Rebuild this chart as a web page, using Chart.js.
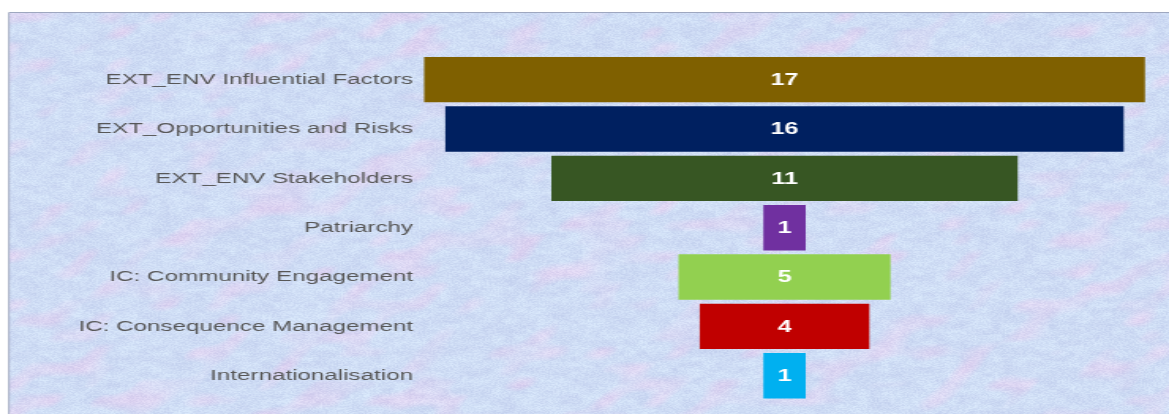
<!DOCTYPE html>
<html><head><meta charset="utf-8">
<script src="https://cdn.jsdelivr.net/npm/chart.js@4/dist/chart.umd.min.js"></script>
<style>
html,body{margin:0;padding:0;background:#fff;overflow:hidden}
#wrap{position:absolute;left:0;top:0;width:740px;height:414px;transform:scaleX(1.5797297);transform-origin:0 0}
#c{display:block}
</style></head><body>
<div id="wrap"><canvas id="c" width="740" height="414" style="width:740px;height:414px"></canvas></div>
<script>
// ---- data ----
const categories = [
  'EXT_ENV Influential Factors',
  'EXT_Opportunities and Risks',
  'EXT_ENV Stakeholders',
  'Patriarchy',
  'IC: Community Engagement',
  'IC: Consequence Management',
  'Internationalisation'
];
const values = [17, 16, 11, 1, 5, 4, 1];
const barColors = ['#7f6000', '#002060', '#375623', '#7030a0', '#92d050', '#c00000', '#00b0f0'];

// ---- layout helpers (canvas is drawn at 740 logical px and stretched to 1169) ----
const W = 740, H = 414, SX = 1169 / W;
const px = v => v / SX;

// deterministic hash noise for the textured panel
function hash(x, y) {
  let n = (x * 374761393 + y * 668265263) | 0;
  n = (n ^ (n >>> 13)) * 1274126177 | 0;
  n = n ^ (n >>> 16);
  return ((n >>> 0) % 10000) / 10000;
}
function vnoise(x, y, cell) {
  const gx = Math.floor(x / cell), gy = Math.floor(y / cell);
  const fx = x / cell - gx, fy = y / cell - gy;
  const sx = fx * fx * (3 - 2 * fx), sy = fy * fy * (3 - 2 * fy);
  const a = hash(gx, gy), b = hash(gx + 1, gy), c = hash(gx, gy + 1), d = hash(gx + 1, gy + 1);
  return (a * (1 - sx) + b * sx) * (1 - sy) + (c * (1 - sx) + d * sx) * sy;
}
const tex = document.createElement('canvas');
tex.width = W; tex.height = H;
(function buildTexture() {
  const tctx = tex.getContext('2d');
  const img = tctx.createImageData(W, H);
  for (let y = 0; y < H; y++) {
    for (let x = 0; x < W; x++) {
      const i = (y * W + x) * 4;
      const p = Math.max(0, vnoise(x + y * 0.6, y, 16) - 0.55) * 1.6;
      const l = vnoise(x, y * 1.3 + 500, 7);
      const f = (hash(x + 9000, y + 77) - 0.5) * 16;
      let r = 202 + p * 22 + l * 10 + f;
      let g = 215 - p * 12 + l * 12 + f;
      let b = 242 - p * 4 + l * 6 + f * 0.6;
      img.data[i] = Math.max(0, Math.min(255, r));
      img.data[i + 1] = Math.max(0, Math.min(255, g));
      img.data[i + 2] = Math.max(0, Math.min(255, b));
      img.data[i + 3] = 255;
    }
  }
  tctx.putImageData(img, 0, 0);
})();

const panelPlugin = {
  id: 'panel',
  beforeDraw(chart) {
    const ctx = chart.ctx;
    ctx.save();
    ctx.fillStyle = '#ffffff';
    ctx.fillRect(0, 0, W, H);
    const x0 = px(9), y0 = 12;
    ctx.drawImage(tex, x0, y0, W - x0, H - y0, x0, y0, W - x0, H - y0);
    ctx.strokeStyle = '#9ea7bf';
    ctx.lineWidth = 1;
    ctx.beginPath();
    ctx.moveTo(x0, H);
    ctx.lineTo(x0, y0 + 0.5);
    ctx.lineTo(W, y0 + 0.5);
    ctx.stroke();
    ctx.restore();
  }
};

const valueLabelPlugin = {
  id: 'valueLabels',
  afterDatasetsDraw(chart) {
    const ctx = chart.ctx;
    const meta = chart.getDatasetMeta(0);
    ctx.save();
    ctx.font = 'bold 16px "Liberation Sans", Arial, sans-serif';
    ctx.fillStyle = '#ffffff';
    ctx.textAlign = 'center';
    ctx.textBaseline = 'middle';
    meta.data.forEach((el, i) => {
      ctx.fillText(String(values[i]), (el.x + el.base) / 2, el.y + 1);
    });
    ctx.restore();
  }
};

new Chart(document.getElementById('c'), {
  type: 'bar',
  data: {
    labels: categories,
    datasets: [{
      data: values.map(v => [-v / 2, v / 2]),
      backgroundColor: barColors,
      borderWidth: 0,
      categoryPercentage: 1,
      barPercentage: 0.92
    }]
  },
  options: {
    indexAxis: 'y',
    responsive: false,
    animation: false,
    devicePixelRatio: 1,
    layout: { padding: { top: 55, bottom: 9, left: 0, right: px(9) } },
    plugins: { legend: { display: false }, tooltip: { enabled: false } },
    scales: {
      x: { display: false, min: -8.597, max: 8.856 },
      y: {
        grid: { display: false, drawTicks: false },
        border: { display: false },
        ticks: {
          padding: px(7),
          color: '#575757',
          font: { family: '"Liberation Sans", Arial, sans-serif', size: 15.3 }
        },
        afterFit(scale) { scale.width = px(420); }
      }
    }
  },
  plugins: [panelPlugin, valueLabelPlugin]
});
</script>
</body></html>
